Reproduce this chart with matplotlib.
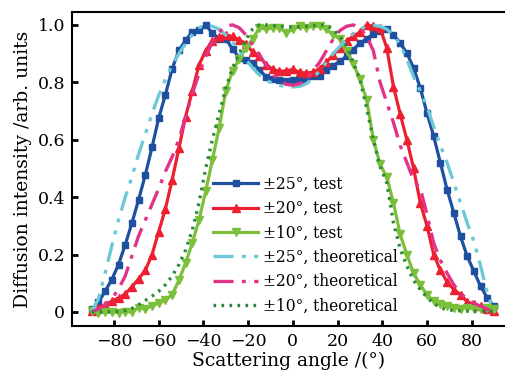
"""Diffusion intensity versus scattering angle, test vs theoretical."""
import matplotlib
matplotlib.use("Agg")
import matplotlib.pyplot as plt

plt.rcParams["font.family"] = ["DejaVu Serif"]
plt.rcParams["mathtext.fontset"] = "dejavuserif"

angle = [-90, -87, -84, -81, -78, -75, -72, -69, -66, -63, -60, -57, -54, -51,
         -48, -45, -42, -39, -36, -33, -30, -27, -24, -21, -18, -15, -12, -9,
         -6, -3, 0, 3, 6, 9, 12, 15, 18, 21, 24, 27, 30, 33, 36, 39, 42, 45,
         48, 51, 54, 57, 60, 63, 66, 69, 72, 75, 78, 81, 84, 87, 90]

test_25 = [0.01, 0.033, 0.072, 0.113, 0.165, 0.234, 0.31, 0.391, 0.478, 0.574,
           0.676, 0.757, 0.847, 0.911, 0.946, 0.976, 0.981, 0.999, 0.972, 0.951,
           0.951, 0.916, 0.885, 0.877, 0.868, 0.844, 0.819, 0.813, 0.809, 0.806,
           0.809, 0.809, 0.813, 0.821, 0.823, 0.844, 0.858, 0.873, 0.891, 0.914,
           0.937, 0.951, 0.969, 0.978, 0.984, 0.966, 0.937, 0.902, 0.85, 0.78,
           0.693, 0.612, 0.519, 0.426, 0.345, 0.263, 0.194, 0.141, 0.089, 0.049,
           0.02]

test_20 = [0.002, 0.013, 0.025, 0.037, 0.049, 0.062, 0.088, 0.115, 0.145, 0.2,
           0.28, 0.36, 0.46, 0.57, 0.68, 0.77, 0.86, 0.91, 0.945, 0.958, 0.965,
           0.96, 0.948, 0.935, 0.905, 0.89, 0.862, 0.845, 0.838, 0.84, 0.845,
           0.835, 0.832, 0.835, 0.848, 0.87, 0.895, 0.92, 0.945, 0.96, 0.975,
           1.0, 0.995, 0.99, 0.92, 0.785, 0.69, 0.6, 0.5, 0.38, 0.3, 0.2, 0.145,
           0.105, 0.078, 0.06, 0.035, 0.026, 0.02, 0.01, 0.003]

test_10 = [0.003, -0.004, 0.0, 0.0, -0.002, 0.0, 0.0, 0.015, 0.01, 0.022, 0.03,
           0.042, 0.06, 0.11, 0.17, 0.24, 0.32, 0.42, 0.53, 0.64, 0.77, 0.84,
           0.88, 0.92, 0.95, 0.99, 0.985, 0.99, 0.99, 0.972, 0.985, 0.995, 0.99,
           0.995, 0.995, 0.985, 0.965, 0.952, 0.91, 0.865, 0.81, 0.74, 0.6,
           0.515, 0.47, 0.38, 0.27, 0.2, 0.135, 0.095, 0.06, 0.037, 0.027, 0.02,
           0.015, 0.012, 0.015, 0.01, 0.01, 0.015, 0.012]

theory_25 = [0.0, 0.045, 0.135, 0.23, 0.32, 0.4, 0.47, 0.55, 0.62, 0.69, 0.755,
             0.81, 0.86, 0.9, 0.935, 0.965, 0.99, 1.0, 0.995, 0.985, 0.965,
             0.94, 0.91, 0.88, 0.85, 0.826, 0.808, 0.796, 0.789, 0.785, 0.784,
             0.786, 0.795, 0.815, 0.84, 0.87, 0.9, 0.925, 0.95, 0.97, 0.985,
             0.995, 0.998, 0.995, 0.985, 0.965, 0.93, 0.88, 0.82, 0.77, 0.715,
             0.645, 0.58, 0.52, 0.45, 0.38, 0.31, 0.245, 0.16, 0.065, 0.0]

theory_20 = [0.0, 0.01, 0.025, 0.045, 0.08, 0.125, 0.195, 0.265, 0.32, 0.375,
             0.43, 0.49, 0.54, 0.6, 0.68, 0.76, 0.83, 0.89, 0.94, 0.975, 0.995,
             1.0, 0.99, 0.965, 0.93, 0.895, 0.86, 0.83, 0.806, 0.793, 0.79,
             0.795, 0.81, 0.84, 0.87, 0.91, 0.95, 0.98, 0.995, 1.0, 0.99, 0.96,
             0.91, 0.8, 0.73, 0.66, 0.58, 0.52, 0.46, 0.43, 0.34, 0.24, 0.18,
             0.135, 0.095, 0.065, 0.045, 0.03, 0.02, 0.01, 0.0]

theory_10 = [0.0, 0.0, 0.0, 0.0, 0.002, 0.005, 0.012, 0.025, 0.04, 0.055, 0.072,
             0.095, 0.125, 0.165, 0.215, 0.285, 0.38, 0.5, 0.6, 0.69, 0.78,
             0.85, 0.9, 0.95, 0.985, 1.0, 1.0, 0.998, 0.995, 0.993, 0.992,
             0.993, 0.995, 0.998, 1.0, 0.998, 0.984, 0.96, 0.925, 0.87, 0.81,
             0.71, 0.6, 0.507, 0.45, 0.31, 0.22, 0.16, 0.11, 0.078, 0.05, 0.03,
             0.015, 0.008, 0.005, 0.004, 0.003, 0.003, 0.003, 0.003, 0.003]

fig = plt.figure(figsize=(5.05, 3.74), dpi=100)
ax = fig.add_axes([0.1426, 0.1283, 0.8574, 0.8397])

ax.plot(angle, test_25, color="#1f4f9f", lw=2.3, marker="s", ms=4.5,
        label="±25°, test")
ax.plot(angle, test_20, color="#ec2030", lw=2.3, marker="^", ms=6,
        label="±20°, test")
ax.plot(angle, test_10, color="#7cbf3a", lw=2.3, marker="v", ms=6,
        label="±10°, test")
ax.plot(angle, theory_25, color="#6ccad6", lw=2.4,
        ls=(0, (6, 2.5, 1.2, 2.5, 1.2, 2.5)), label="±25°, theoretical")
ax.plot(angle, theory_20, color="#e2338a", lw=2.4,
        ls=(0, (6, 2.5, 1.2, 2.5)), label="±20°, theoretical")
ax.plot(angle, theory_10, color="#2b8a3a", lw=2.4,
        ls=(0, (0.8, 1.6)), label="±10°, theoretical")

ax.set_xlim(-98.8, 94.9)
ax.set_ylim(-0.049, 1.045)
ax.set_xticks([-80, -60, -40, -20, 0, 20, 40, 60, 80])
ax.set_yticks([0, 0.2, 0.4, 0.6, 0.8, 1.0])
ax.set_yticklabels(["0", "0.2", "0.4", "0.6", "0.8", "1.0"])
ax.tick_params(direction="in", length=4, width=2, labelsize=12.5, pad=5)
ax.spines["right"].set_visible(False)
for s in ["left", "bottom", "top"]:
    ax.spines[s].set_linewidth(1.5)

ax.set_xlabel("Scattering angle /(°)", fontsize=13.5, labelpad=1)
ax.set_ylabel("Diffusion intensity /arb. units", fontsize=13.5, labelpad=4)

ax.legend(loc="upper left", bbox_to_anchor=(0.3256, 0.478), frameon=False,
          fontsize=11.2, handlelength=2.9, handletextpad=0.32,
          labelspacing=0.47, borderaxespad=0, borderpad=0)

fig.savefig("out.png", dpi=100)
